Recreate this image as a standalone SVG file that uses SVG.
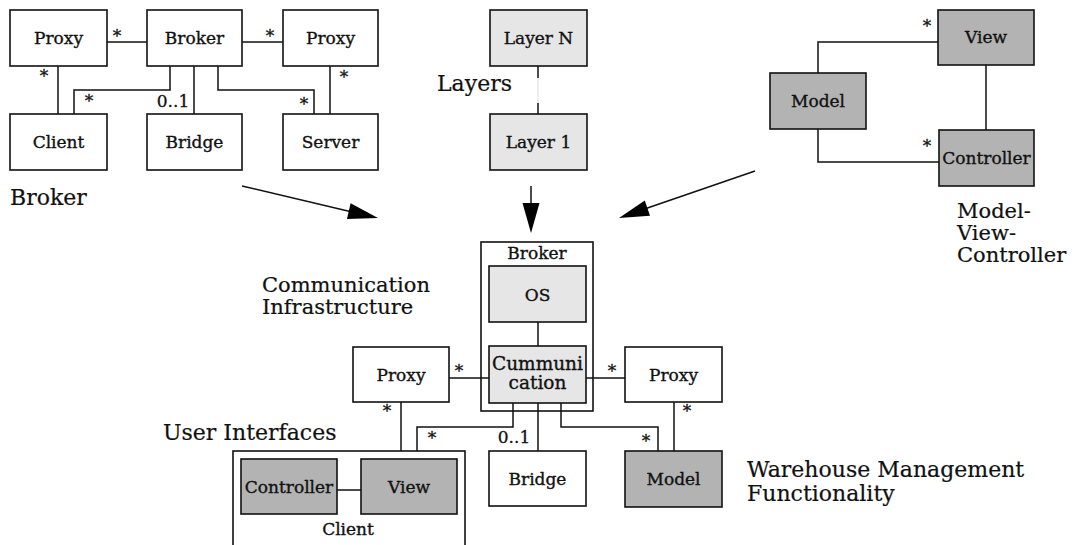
<svg xmlns="http://www.w3.org/2000/svg" width="1079" height="545" viewBox="0 0 1079 545">
<style>
  .box { fill: #ffffff; stroke: #111; stroke-width: 1.6; }
  .lt { fill: #e6e6e6; stroke: #111; stroke-width: 1.6; }
  .dk { fill: #b3b3b3; stroke: #111; stroke-width: 1.6; }
  .ln { fill: none; stroke: #111; stroke-width: 1.5; }
  .faint { fill: none; stroke: #d0d0d0; stroke-width: 0.8; }
  .lbl { font-family: "DejaVu Serif", "Liberation Serif", serif; font-size: 17px; fill: #111; stroke: #111; stroke-width: 0.35; text-anchor: middle; }
  .big { font-family: "DejaVu Serif", "Liberation Serif", serif; font-size: 22px; fill: #111; stroke: #111; stroke-width: 0.2; }
  .big2 { font-family: "DejaVu Serif", "Liberation Serif", serif; font-size: 21px; fill: #111; stroke: #111; stroke-width: 0.2; }
  .mult { font-family: "DejaVu Serif", "Liberation Serif", serif; font-size: 17px; fill: #111; stroke: #111; stroke-width: 0.3; text-anchor: middle; }
  .ah { fill: #000; }
</style>

<!-- Top-left: Broker pattern -->
<g id="tl-proxy1"><rect class="box" x="10" y="10" width="97" height="56"/><text class="lbl" x="58.5" y="44">Proxy</text></g>
<g id="tl-broker"><rect class="box" x="147" y="10" width="95" height="56"/><text class="lbl" x="194.5" y="44">Broker</text></g>
<g id="tl-proxy2"><rect class="box" x="283" y="10" width="95" height="56"/><text class="lbl" x="330.5" y="44">Proxy</text></g>
<g id="tl-client"><rect class="box" x="10" y="114" width="97" height="56"/><text class="lbl" x="58.5" y="148">Client</text></g>
<g id="tl-bridge"><rect class="box" x="147" y="114" width="95" height="56"/><text class="lbl" x="194.5" y="148">Bridge</text></g>
<g id="tl-server"><rect class="box" x="283" y="114" width="95" height="56"/><text class="lbl" x="330.5" y="148">Server</text></g>
<text class="big" x="10" y="205">Broker</text>

<!-- Layers -->
<g id="layer-n"><rect class="lt" x="490" y="10" width="97" height="56"/><text class="lbl" x="538.5" y="44">Layer N</text></g>
<g id="layer-1"><rect class="lt" x="490" y="114" width="97" height="56"/><text class="lbl" x="538.5" y="148">Layer 1</text></g>
<text class="big" x="437" y="91">Layers</text>

<!-- MVC -->
<g id="mvc-view"><rect class="dk" x="938" y="10" width="96" height="55"/><text class="lbl" x="986" y="43">View</text></g>
<g id="mvc-model"><rect class="dk" x="770" y="73" width="96" height="56"/><text class="lbl" x="818" y="107">Model</text></g>
<g id="mvc-controller"><rect class="dk" x="939" y="130" width="95" height="56"/><text class="lbl" x="986.5" y="164">Controller</text></g>
<text class="big2" x="957" y="218">Model-</text>
<text class="big2" x="957" y="240">View-</text>
<text class="big2" x="957" y="262">Controller</text>

<!-- Center: composed architecture -->
<g id="broker-container"><rect class="box" x="481" y="242" width="112" height="169"/><text class="lbl" x="537" y="259">Broker</text></g>
<g id="os"><rect class="lt" x="489" y="266" width="97" height="56"/><text class="lbl" x="537.5" y="301">OS</text></g>
<g id="communication"><rect class="lt" x="489" y="346" width="97" height="57"/><text class="lbl" x="537.5" y="370" style="font-size:18.5px">Cummuni</text><text class="lbl" x="537.5" y="389" style="font-size:18.5px">cation</text></g>
<g id="proxy-left"><rect class="box" x="353" y="347" width="96" height="55"/><text class="lbl" x="401" y="381">Proxy</text></g>
<g id="proxy-right"><rect class="box" x="625" y="347" width="97" height="55"/><text class="lbl" x="673.5" y="381">Proxy</text></g>
<g id="client-container"><rect class="box" x="233" y="451" width="232" height="110"/><text class="lbl" x="348" y="535">Client</text></g>
<g id="ui-controller"><rect class="dk" x="241" y="459" width="96" height="55"/><text class="lbl" x="289" y="493">Controller</text></g>
<g id="ui-view"><rect class="dk" x="361" y="459" width="96" height="55"/><text class="lbl" x="409" y="493">View</text></g>
<g id="bridge"><rect class="box" x="489" y="451" width="97" height="55"/><text class="lbl" x="537.5" y="485">Bridge</text></g>
<g id="wm-model"><rect class="dk" x="625" y="451" width="97" height="56"/><text class="lbl" x="673.5" y="485">Model</text></g>
<text class="big2" x="262" y="292">Communication</text>
<text class="big2" x="262" y="314">Infrastructure</text>
<text class="big" x="163" y="440">User Interfaces</text>
<text class="big" x="747" y="477">Warehouse Management</text>
<text class="big" x="747" y="501">Functionality</text>

<g id="connectors">
  <!-- top-left broker -->
  <line class="ln" x1="107" y1="42" x2="147" y2="42"/>
  <text class="mult" x="117" y="42">*</text>
  <line class="ln" x1="242" y1="42" x2="283" y2="42"/>
  <text class="mult" x="270" y="42">*</text>
  <line class="ln" x1="58" y1="66" x2="58" y2="114"/>
  <text class="mult" x="44" y="82">*</text>
  <polyline class="ln" points="170,66 170,90 74,90 74,114"/>
  <text class="mult" x="89" y="107">*</text>
  <line class="ln" x1="194" y1="66" x2="194" y2="114"/>
  <text class="mult" x="173" y="107">0..1</text>
  <polyline class="ln" points="218,66 218,90 314,90 314,114"/>
  <text class="mult" x="304" y="110">*</text>
  <line class="ln" x1="330" y1="66" x2="330" y2="114"/>
  <text class="mult" x="344" y="83">*</text>

  <!-- layers -->
  <line class="ln" x1="538" y1="66" x2="538" y2="78"/>
  <line class="faint" x1="538" y1="78" x2="538" y2="103"/>
  <line class="ln" x1="538" y1="103" x2="538" y2="114"/>

  <!-- MVC -->
  <polyline class="ln" points="818,73 818,42 938,42"/>
  <text class="mult" x="927" y="32">*</text>
  <line class="ln" x1="986" y1="65" x2="986" y2="130"/>
  <polyline class="ln" points="818,129 818,162 939,162"/>
  <text class="mult" x="927" y="152">*</text>

  <!-- big arrows -->
  <line class="ln" x1="242" y1="186" x2="350" y2="211.5"/>
  <polygon class="ah" points="378,218 347,218.9 350.6,203.3"/>
  <line class="ln" x1="531" y1="186" x2="531" y2="205"/>
  <polygon class="ah" points="531,233 522.5,203 539.5,203"/>
  <line class="ln" x1="755" y1="171" x2="646" y2="208.5"/>
  <polygon class="ah" points="619,218 650,215.8 644.8,200.6"/>

  <!-- center -->
  <line class="ln" x1="538" y1="322" x2="538" y2="346"/>
  <line class="ln" x1="449" y1="378" x2="489" y2="378"/>
  <text class="mult" x="459" y="377">*</text>
  <line class="ln" x1="586" y1="378" x2="625" y2="378"/>
  <text class="mult" x="612" y="377">*</text>
  <line class="ln" x1="401" y1="402" x2="401" y2="451"/>
  <text class="mult" x="387" y="417">*</text>
  <line class="ln" x1="674" y1="402" x2="674" y2="451"/>
  <text class="mult" x="687" y="417">*</text>
  <polyline class="ln" points="513,403 513,427 417,427 417,451"/>
  <text class="mult" x="432" y="444">*</text>
  <line class="ln" x1="538" y1="403" x2="538" y2="451"/>
  <text class="mult" x="514" y="443">0..1</text>
  <polyline class="ln" points="561,403 561,427 658,427 658,451"/>
  <text class="mult" x="646" y="447">*</text>
  <line class="ln" x1="337" y1="490" x2="361" y2="490"/>
</g>
</svg>
